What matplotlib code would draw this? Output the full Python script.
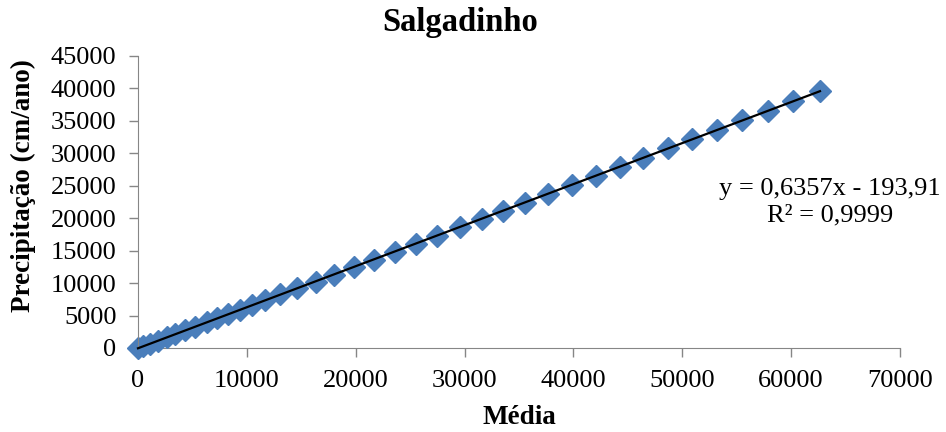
import matplotlib
matplotlib.use("Agg")
import matplotlib.pyplot as plt
import numpy as np

# Values (Média vs Precipitação)
media = [0, 460, 1100, 1840, 2660, 3400, 4320, 5240, 6340, 7260, 8270, 9370,
         10470, 11670, 13040, 14610, 16350, 18000, 19840, 21680, 23610, 25540,
         27470, 29580, 31600, 33530, 35550, 37660, 39870, 42070, 44280, 46390,
         48690, 50890, 53190, 55480, 57870, 60170, 62650]
precip = [0, 280, 680, 1150, 1660, 2130, 2720, 3300, 4000, 4580, 5220, 5920,
          6620, 7380, 8250, 9240, 10200, 11250, 12420, 13590, 14810, 16040,
          17270, 18610, 19890, 21120, 22400, 23750, 25150, 26550, 27960, 29300,
          30760, 32160, 33620, 35080, 36600, 38060, 39680]

x_ticks = np.arange(0, 70001, 10000)
y_ticks = np.arange(0, 45001, 5000)

title = "Salgadinho"
x_label = "Média"
y_label = "Precipitação (cm/ano)"
equation = "y = 0,6357x - 193,91\nR² = 0,9999"

plt.rcParams["font.family"] = ["Liberation Serif", "DejaVu Serif"]

fig = plt.figure(figsize=(9.46, 4.32), dpi=100)
ax = fig.add_axes([138 / 946, 1 - 348 / 432, 762 / 946, 292 / 432])

blue = "#4A7EBB"
ax.plot(media, precip, linestyle="none", marker="D", markersize=11.5,
        color=blue, markeredgecolor=blue, zorder=2, clip_on=False)

# linear trendline
slope, intercept = np.polyfit(media, precip, 1)
xs = np.array([min(media), max(media)])
ax.plot(xs, slope * xs + intercept, color="black", linewidth=1.6, zorder=3,
        clip_on=False)

ax.set_xlim(0, 70000)
ax.set_ylim(0, 45000)
ax.set_xticks(x_ticks)
ax.set_yticks(y_ticks)
ax.tick_params(axis="both", direction="out", length=6.5, width=1,
               color="#868686", labelsize=19)
ax.tick_params(axis="x", pad=9)
ax.tick_params(axis="y", pad=9)
for side in ["top", "right"]:
    ax.spines[side].set_visible(False)
for side in ["left", "bottom"]:
    ax.spines[side].set_color("#868686")
ax.spines["bottom"].set_zorder(1)

ax.set_xlabel(x_label, fontsize=19.5, fontweight="bold", va="center")
ax.xaxis.set_label_coords(0.5, -70 / 292)
ax.set_ylabel(y_label, fontsize=19.5, fontweight="bold", va="center")
ax.yaxis.set_label_coords(-115 / 762, 162 / 292)

fig.text(460 / 946, 1 - 23 / 432, title, fontsize=23.5, fontweight="bold",
         ha="center", va="center")
fig.text(830 / 946, 1 - 202 / 432, equation, fontsize=19, ha="center",
         va="center", multialignment="center", linespacing=1.25)

fig.savefig("out.png", dpi=100)
